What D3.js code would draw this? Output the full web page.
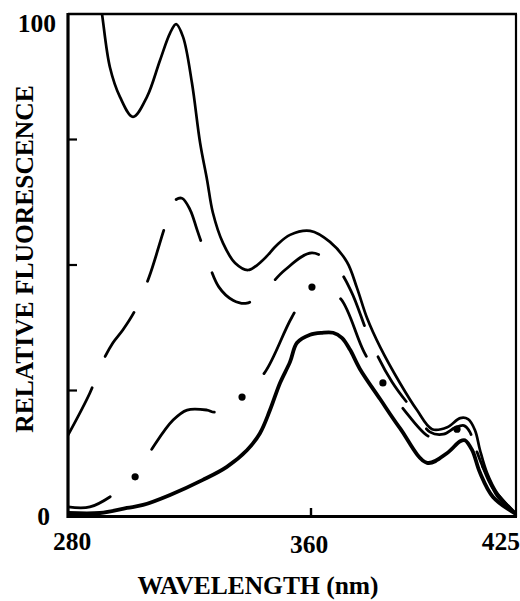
<!DOCTYPE html>
<html>
<head>
<meta charset="utf-8">
<script src="https://cdn.jsdelivr.net/npm/d3@7"></script>
<style>
  html, body { margin: 0; padding: 0; background: #fff; }
  svg { display: block; }
  text { font-family: "Liberation Serif", "DejaVu Serif", serif; font-weight: bold; fill: #000; }
</style>
</head>
<body>
<svg id="chart" width="520" height="601"></svg>
<script>
// ---------------- data ----------------
const xTickValues = [280, 360, 425];
const xTickLabels = ["280", "360", "425"];
const yTickValues = [0, 100];
const yTickLabels = ["0", "100"];
const yMinorTicks = [25, 50, 75];
const xTitle = "WAVELENGTH (nm)";
const yTitle = "RELATIVE FLUORESCENCE";

// [wavelength nm, relative fluorescence]
const curveTopSolid = [[290.0,105],[291.2,100],[293.8,89.4],[297.1,83.5],[301.4,79.5],[306.0,83.5],[310.3,90.8],[313.6,96.2],[315.6,98.0],[317.9,95.4],[320.8,86.3],[323.5,74.3],[325.8,66.9],[327.7,60.4],[331.0,54.4],[335.0,50.4],[339.3,49.0],[344.2,51.0],[348.8,54.0],[353.1,56.0],[359.7,56.8],[366.0,54.6],[371.4,50.6],[374.6,45.4],[377.8,39.4],[381.9,33.7],[388.2,26.5],[393.6,21.1],[398.4,17.3],[403.2,17.7],[407.3,19.5],[409.8,19.3],[412.0,17.1],[413.6,13.1],[415.8,8.6],[419.0,4.6],[425,0.5]];

const curveLongDash = [[280,16.1],[287.2,24.5],[291.2,30.5],[294.8,34.5],[298.1,37.1],[302.1,41.0],[306.7,47.6],[311.9,57.6],[314.9,62.7],[317.5,63.3],[320.2,61.0],[322.5,57.0],[324.8,53.0],[329.7,45.6],[334.3,43.0],[338.9,42.4],[345.5,45.4],[351.4,49.0],[360.3,52.4],[368.2,49.4],[372.7,44.8],[379.0,34.7],[385.7,26.7],[393.6,20.1],[397.8,16.7],[402.0,16.3],[405.7,17.6],[408.5,18.0],[410.4,16.7],[412.3,12.7],[415.9,8.0],[419.0,4.0],[425,0.4]];

const curveDashDot = [[280,1.8],[287.2,1.8],[294.8,4.2],[302.1,7.8],[308.0,13.7],[314.6,19.1],[319.2,21.1],[325.8,21.1],[328.4,20.7],[337.3,23.7],[344.9,28.7],[353.7,39.6],[360.3,45.6],[364.4,45.3],[369.5,43.2],[376.8,32.7],[382.8,26.5],[388.8,21.7],[397.8,15.7],[402.5,15.9],[406.3,17.3],[409.2,16.7],[411.7,14.1],[414.2,10.2],[417.4,5.8],[425,0.4]];
const dashDotDots = [[302.1,7.8],[337.3,23.7],[360.3,45.6],[382.8,26.5],[406.3,17.3]];

const curveBottomSolid = [[280,0.6],[290.5,0.6],[299.4,1.6],[304.7,2.2],[313.6,4.2],[324.4,7.2],[332.3,9.8],[338.9,13.1],[343.2,16.5],[346.5,21.1],[349.8,26.5],[353.1,30.7],[355.4,34.5],[359.7,36.1],[363.5,36.5],[367.0,36.5],[369.8,35.5],[372.4,33.1],[375.5,29.3],[381.9,23.3],[388.2,17.5],[396.8,10.6],[403.1,12.5],[407.3,14.9],[408.8,15.1],[411.1,13.1],[413.6,8.6],[417.7,3.8],[425,0.4]];

// ---------------- layout ----------------
const pL = 68, pR = 516, pT = 14, pB0 = 516;
const svg = d3.select("#chart");
svg.append("rect").attr("width", 520).attr("height", 601).attr("fill", "#fff");

const x = d3.scaleLinear().domain([280, 360, 425]).range([pL, 311, pR]);
const y = d3.scaleLinear().domain([0, 100]).range([pB0, pT]);

svg.append("defs").append("clipPath").attr("id", "plotclip")
  .append("rect").attr("x", pL).attr("y", pT).attr("width", pR - pL).attr("height", pB0 - pT);

const line = d3.line().x(d => x(d[0])).y(d => y(d[1])).curve(d3.curveCatmullRom.alpha(0.5));
const plot = svg.append("g").attr("clip-path", "url(#plotclip)");

// top solid
plot.append("path").attr("d", line(curveTopSolid))
  .attr("fill", "none").attr("stroke", "#000").attr("stroke-width", 2.7).attr("stroke-linecap", "round");

// long dash
plot.append("path").attr("d", line(curveLongDash))
  .attr("fill", "none").attr("stroke", "#000").attr("stroke-width", 2.8)
  .attr("stroke-linecap", "round").attr("stroke-dasharray", "53,34");

// dash-dot
const pathB = plot.append("path").attr("d", line(curveDashDot))
  .attr("fill", "none").attr("stroke", "#000").attr("stroke-width", 2.8).attr("stroke-linecap", "round");
const nodeB = pathB.node();
const LB = nodeB.getTotalLength();
function lengthAtX(px) {
  let lo = 0, hi = LB;
  for (let i = 0; i < 40; i++) {
    const mid = (lo + hi) / 2;
    if (nodeB.getPointAtLength(mid).x < px) lo = mid; else hi = mid;
  }
  return lo;
}
const gapHalf = 32;
const dashes = [];
let pos = 0;
dashDotDots.forEach(d => {
  const l = lengthAtX(x(d[0]));
  dashes.push(Math.max(0.1, l - gapHalf - pos));
  dashes.push(2 * gapHalf);
  pos = l + gapHalf;
});
dashes.push(Math.max(0.1, LB - pos));
dashes.push(1000);
pathB.attr("stroke-dasharray", dashes.join(","));

plot.selectAll("circle.dot").data(dashDotDots).join("circle")
  .attr("class", "dot").attr("cx", d => x(d[0])).attr("cy", d => y(d[1])).attr("r", 3.6).attr("fill", "#000");

// bottom solid (thick)
plot.append("path").attr("d", line(curveBottomSolid))
  .attr("fill", "none").attr("stroke", "#000").attr("stroke-width", 3.8).attr("stroke-linecap", "round");

// ---------------- frame & ticks ----------------
const frame = svg.append("g").attr("stroke", "#000").attr("fill", "none");
frame.append("line").attr("x1", pL).attr("x2", pR + 1).attr("y1", pT).attr("y2", pT).attr("stroke-width", 2.6);
frame.append("line").attr("x1", pR).attr("x2", pR).attr("y1", pT).attr("y2", pB0 + 1).attr("stroke-width", 2.2);
frame.append("line").attr("x1", pL).attr("x2", pL).attr("y1", pT - 1).attr("y2", pB0 + 2).attr("stroke-width", 3.2);
frame.append("line").attr("x1", pL - 1).attr("x2", pR + 1).attr("y1", pB0 + 0.5).attr("y2", pB0 + 0.5).attr("stroke-width", 3.2);

yMinorTicks.forEach(v => {
  frame.append("line").attr("x1", pL).attr("x2", pL + 9).attr("y1", y(v)).attr("y2", y(v)).attr("stroke-width", 2.2);
});
frame.append("line").attr("x1", x(360)).attr("x2", x(360)).attr("y1", pB0).attr("y2", pB0 - 8).attr("stroke-width", 2.4);

// ---------------- labels ----------------
const fs = 25.5;
const xAnchors = ["start", "middle", "end"];
const xOffsets = [-15, -2, 4];
const xBaselines = [550, 553, 550];
xTickValues.forEach((v, i) => {
  svg.append("text").attr("x", x(v) + xOffsets[i]).attr("y", xBaselines[i])
    .attr("text-anchor", xAnchors[i]).attr("font-size", fs).text(xTickLabels[i]);
});
const yLabelX = [50, 56];
const yBaselineOff = [9, 18];
yTickValues.forEach((v, i) => {
  svg.append("text").attr("x", yLabelX[i]).attr("y", y(v) + yBaselineOff[i])
    .attr("text-anchor", "end").attr("font-size", fs).text(yTickLabels[i]);
});

svg.append("text").attr("x", 258).attr("y", 594).attr("text-anchor", "middle")
  .attr("font-size", fs).text(xTitle);
svg.append("text").attr("transform", "translate(33,259) rotate(-90)").attr("text-anchor", "middle")
  .attr("font-size", fs).text(yTitle);
</script>
</body>
</html>
